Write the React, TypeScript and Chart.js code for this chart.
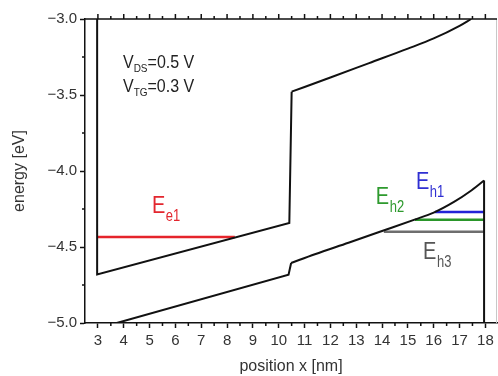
import { useEffect, useRef } from 'react';
import { Chart, registerables } from 'chart.js';

Chart.register(...registerables);

const FONT = "'Liberation Sans', Arial, Helvetica, sans-serif";

// ---- axes ----
const xRange = [2.5, 18.45];
const yRange = [-5.0, -3.0];
const xTickValues = [3, 4, 5, 6, 7, 8, 9, 10, 11, 12, 13, 14, 15, 16, 17, 18];
const xMinorValues = [3.5, 4.5, 5.5, 6.5, 7.5, 8.5, 9.5, 10.5, 11.5, 12.5, 13.5, 14.5, 15.5, 16.5, 17.5];
const yTickValues = [-5.0, -4.5, -4.0, -3.5, -3.0];
const yMinorValues = [-4.75, -4.25, -3.75, -3.25];
const xTitle = 'position x [nm]';
const yTitle = 'energy [eV]';

// ---- conduction band ----
const cbWallX = [2.97, 2.97, 10.41, 10.5];
const cbWallE = [-3.0, -4.68, -4.342, -3.478];
const cbCurveX = [10.5, 12.0, 13.5, 15.0, 16.0, 17.0, 17.45];
const cbCurveE = [-3.478, -3.385, -3.29, -3.195, -3.128, -3.045, -3.0];

// ---- valence band ----
const vbLineX = [3.73, 10.38, 10.48];
const vbLineE = [-5.0, -4.682, -4.605];
const vbCurveX = [10.48, 11.4, 12.7, 14.0, 15.26, 16.0, 16.8, 17.4, 17.95];
const vbCurveE = [-4.605, -4.548, -4.472, -4.395, -4.32, -4.274, -4.202, -4.135, -4.062];
const vbWallX = [17.95, 17.95];
const vbWallE = [-4.062, -5.0];

// ---- confined levels ----
const levelStartX = [2.97, 16.05, 15.27, 14.07];
const levelEndX = [8.3, 17.95, 17.95, 17.95];
const levelE = [-4.434, -4.27, -4.32, -4.4];
const levelColors = ['#e5242b', '#2323d8', '#2a962a', '#6e6e6e'];

// ---- level labels ----
const labelSub = ['e1', 'h1', 'h2', 'h3'];
const labelX = [5.09, 15.31, 13.76, 15.59];
const labelE = [-4.276, -4.118, -4.217, -4.579];
const labelColors = ['#e3262e', '#2f2fd2', '#2e9a2e', '#555555'];

// ---- bias annotations ----
const biasSub = ['DS', 'TG'];
const biasRest = ['=0.5 V', '=0.3 V'];
const biasX = [3.97, 3.97];
const biasE = [-3.322, -3.48];

const pts = (xs: number[], ys: number[]) => xs.map((x, i) => ({ x, y: ys[i] }));

const decorPlugin = {
  id: 'decor',
  afterDraw(chart: any) {
    const { ctx, chartArea, scales } = chart;
    const { left, right, top, bottom } = chartArea;
    const xs = scales.x;
    const ys = scales.y;
    ctx.save();
    // right frame (faint)
    ctx.strokeStyle = '#c8c8c8';
    ctx.lineWidth = 1;
    ctx.beginPath();
    ctx.moveTo(right - 0.5, top);
    ctx.lineTo(right - 0.5, bottom);
    ctx.stroke();
    // top axis line and ticks, minor ticks
    ctx.strokeStyle = '#111';
    ctx.lineWidth = 1.5;
    ctx.beginPath();
    ctx.moveTo(left, top);
    ctx.lineTo(right, top);
    xTickValues.forEach((v) => {
      const p = xs.getPixelForValue(v);
      ctx.moveTo(p, top);
      ctx.lineTo(p, top - 5);
    });
    xMinorValues.forEach((v) => {
      const p = xs.getPixelForValue(v);
      ctx.moveTo(p, top);
      ctx.lineTo(p, top - 3);
      ctx.moveTo(p, bottom);
      ctx.lineTo(p, bottom + 3);
    });
    yMinorValues.forEach((v) => {
      const p = ys.getPixelForValue(v);
      ctx.moveTo(left, p);
      ctx.lineTo(left - 3, p);
    });
    ctx.stroke();

    // level labels (slightly tall lettering, as in the reference)
    ctx.textBaseline = 'alphabetic';
    ctx.textAlign = 'left';
    const stretch = 1.22;
    labelSub.forEach((sub, i) => {
      const px = xs.getPixelForValue(labelX[i]);
      const py = ys.getPixelForValue(labelE[i]);
      ctx.save();
      ctx.translate(px, py);
      ctx.scale(1, stretch);
      ctx.fillStyle = labelColors[i];
      ctx.font = `20px ${FONT}`;
      ctx.fillText('E', 0, 0);
      const w = ctx.measureText('E').width;
      ctx.font = `13px ${FONT}`;
      ctx.fillText(sub, w + 0.5, 8 / stretch);
      ctx.restore();
    });

    // bias annotations
    biasSub.forEach((sub, i) => {
      const px = xs.getPixelForValue(biasX[i]);
      const py = ys.getPixelForValue(biasE[i]);
      ctx.save();
      ctx.translate(px, py);
      ctx.scale(1, 1.1);
      ctx.fillStyle = '#222';
      ctx.font = `16px ${FONT}`;
      ctx.fillText('V', 0, 0);
      const w1 = ctx.measureText('V').width;
      ctx.font = `10px ${FONT}`;
      ctx.fillText(sub, w1, 4);
      const w2 = ctx.measureText(sub).width;
      ctx.font = `16px ${FONT}`;
      ctx.fillText(biasRest[i], w1 + w2, 0);
      ctx.restore();
    });
    ctx.restore();
  },
};

export default function App() {
  const ref = useRef<HTMLCanvasElement | null>(null);

  useEffect(() => {
    if (!ref.current) return;
    const black = { borderColor: '#111', borderWidth: 2, pointRadius: 0, showLine: true, fill: false };
    const datasets: any[] = [
      { ...black, data: pts(cbWallX, cbWallE), tension: 0 },
      { ...black, data: pts(cbCurveX, cbCurveE), cubicInterpolationMode: 'monotone' },
      { ...black, data: pts(vbLineX, vbLineE), tension: 0 },
      { ...black, data: pts(vbCurveX, vbCurveE), cubicInterpolationMode: 'monotone' },
      { ...black, data: pts(vbWallX, vbWallE), tension: 0 },
      ...levelE.map((e, i) => ({
        data: pts([levelStartX[i], levelEndX[i]], [e, e]),
        borderColor: levelColors[i],
        borderWidth: 2.5,
        pointRadius: 0,
        showLine: true,
        fill: false,
      })),
    ];
    const chart = new Chart(ref.current, {
      type: 'scatter',
      data: { datasets },
      plugins: [decorPlugin],
      options: {
        animation: false,
        responsive: false,
        maintainAspectRatio: false,
        layout: { padding: { top: 19, right: 1, left: 0, bottom: 0 } },
        plugins: { legend: { display: false }, tooltip: { enabled: false } },
        scales: {
          x: {
            type: 'linear',
            position: 'bottom',
            min: xRange[0],
            max: xRange[1],
            afterBuildTicks: (s: any) => {
              s.ticks = xTickValues.map((v) => ({ value: v }));
            },
            afterFit: (s: any) => {
              s.height = 53;
            },
            ticks: {
              font: { size: 15, family: FONT },
              color: '#333',
              padding: 4,
              maxRotation: 0,
              autoSkip: false,
            },
            grid: { drawOnChartArea: false, drawTicks: true, tickLength: 5, tickColor: '#111', tickWidth: 1.5 },
            border: { color: '#111', width: 1.5 },
            title: {
              display: true,
              text: xTitle,
              font: { size: 16, family: FONT },
              color: '#333',
              padding: { top: 0, bottom: 0 },
            },
          },
          y: {
            type: 'linear',
            min: yRange[0],
            max: yRange[1],
            afterBuildTicks: (s: any) => {
              s.ticks = yTickValues.map((v) => ({ value: v }));
            },
            afterFit: (s: any) => {
              s.width = 85;
            },
            ticks: {
              font: { size: 15, family: FONT },
              color: '#333',
              padding: 3,
              callback: (v: any) => (Number(v) < 0 ? '\u2212' : '') + Math.abs(Number(v)).toFixed(1),
            },
            grid: { drawOnChartArea: false, drawTicks: true, tickLength: 5, tickColor: '#111', tickWidth: 1.5 },
            border: { color: '#111', width: 1.5 },
            title: {
              display: true,
              text: yTitle,
              font: { size: 16, family: FONT },
              color: '#333',
              padding: { top: 10, bottom: 0 },
            },
          },
        },
      },
    });
    return () => chart.destroy();
  }, []);

  return (
    <div style={{ position: 'fixed', left: 0, top: 0, width: 498, height: 376, background: '#fff' }}>
      <canvas ref={ref} width={498} height={376} style={{ display: 'block' }} />
    </div>
  );
}
